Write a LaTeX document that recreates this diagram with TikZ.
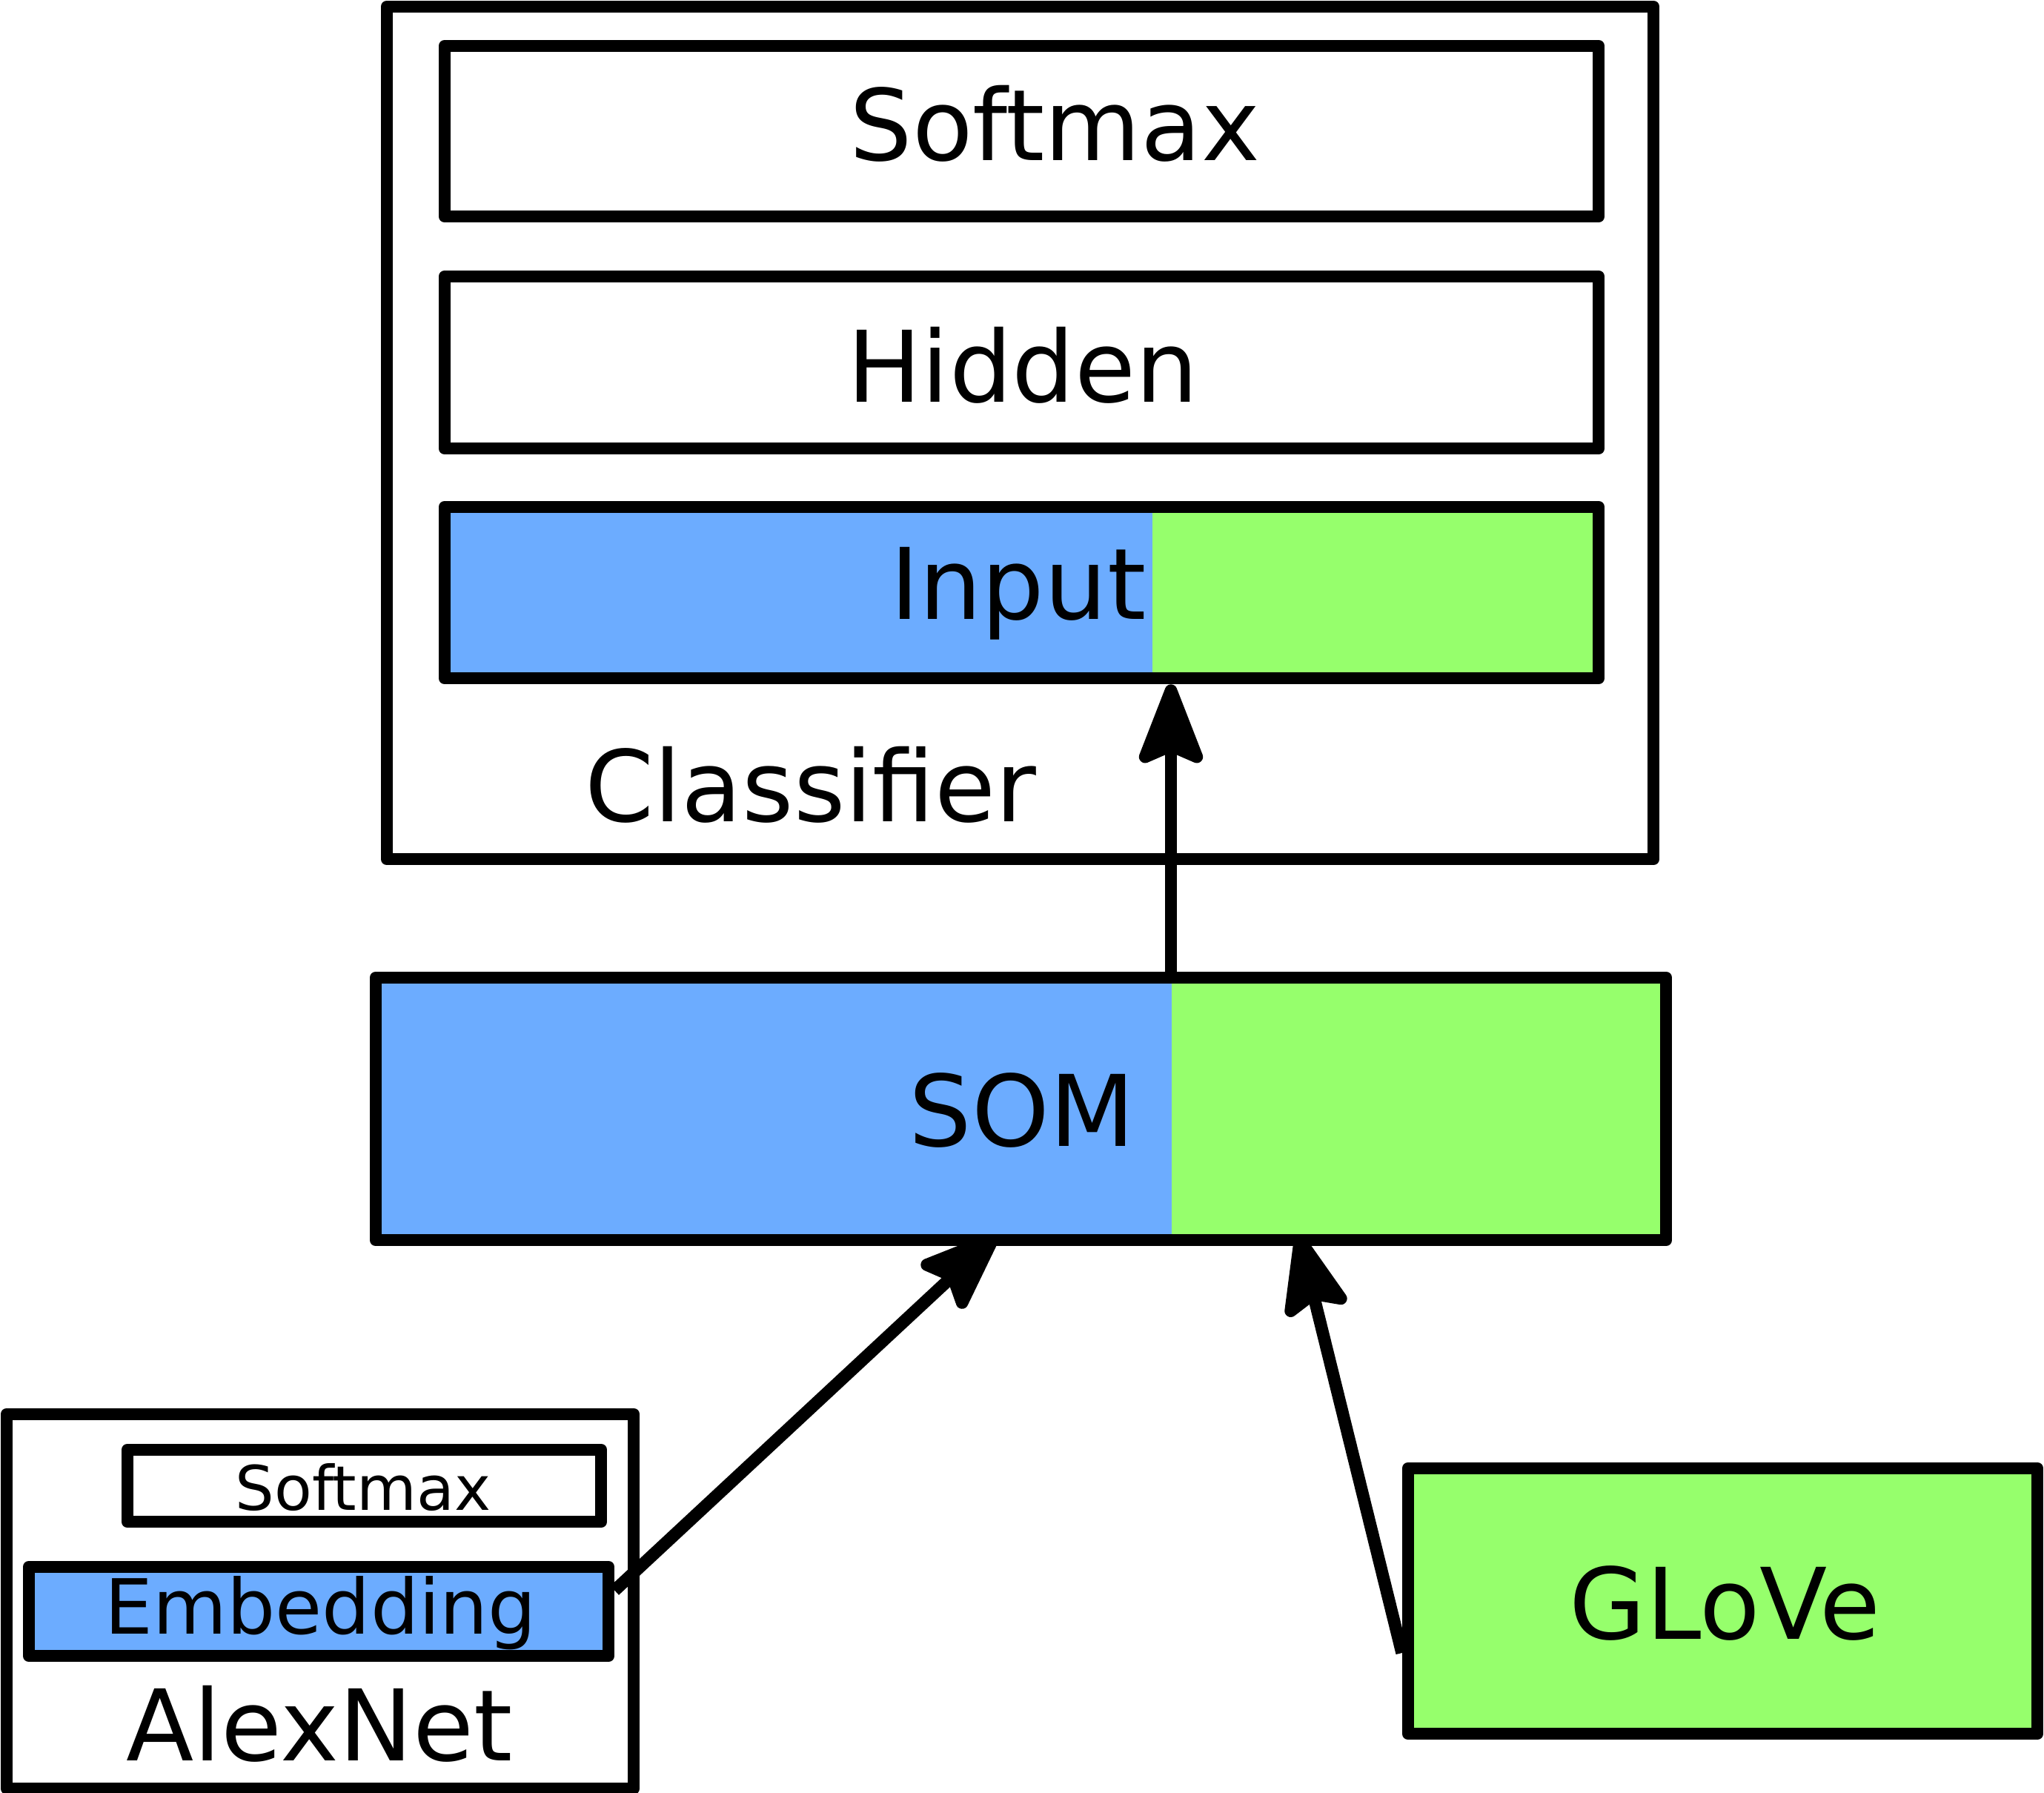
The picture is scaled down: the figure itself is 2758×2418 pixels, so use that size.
\documentclass[tikz,border=0pt]{standalone}
\usepackage{fontspec}
\setmainfont{DejaVu Sans}
\usetikzlibrary{arrows.meta}
\definecolor{somblue}{RGB}{108,172,255}
\definecolor{somgreen}{RGB}{150,255,108}
\pgfdeclarelayer{arrows}
\pgfdeclarelayer{bg}
\pgfsetlayers{arrows,bg,main}
\tikzset{
  box/.style={draw=black, line width=5pt, line join=round, inner sep=0pt, rectangle},
  lbl/.style={inner sep=0pt, font=\fontsize{40}{40}\selectfont},
  arr/.style={line width=5pt, -{Stealth[length=38pt, width=29pt, inset=6pt, round]}},
}
\begin{document}
\begin{tikzpicture}[x=0.3pt, y=-0.3pt]
\useasboundingbox (0,0) rectangle (2758,2418);
% fills
\begin{pgfonlayer}{bg}
\fill[somblue] (600,684) rectangle (1555,915);
\fill[somgreen] (1555,684) rectangle (2157,915);
\fill[somblue] (507,1319) rectangle (1581,1673);
\fill[somgreen] (1581,1319) rectangle (2248,1673);
\fill[somblue] (39,2114) rectangle (821,2234);
\fill[somgreen] (1900,1981) rectangle (2749,2339);
\end{pgfonlayer}
% boxes
\node[box, minimum width=512.7pt, minimum height=345pt] (cls) at (1376.5,584) {};
\node[box, minimum width=467.1pt, minimum height=69pt] (smx) at (1378.5,177) {};
\node[box, minimum width=467.1pt, minimum height=69.6pt] (hid) at (1378.5,489) {};
\node[box, minimum width=467.1pt, minimum height=69.3pt] (inp) at (1378.5,799.5) {};
\node[box, minimum width=522.3pt, minimum height=106.2pt] (som) at (1377.5,1496) {};
\node[box, minimum width=253.8pt, minimum height=151.5pt] (alex) at (432,2160.5) {};
\node[box, minimum width=191.7pt, minimum height=29.1pt] (asm) at (491.5,2004.5) {};
\node[box, minimum width=234.6pt, minimum height=36pt] (emb) at (430,2174) {};
\node[box, minimum width=254.7pt, minimum height=107.4pt] (glv) at (2324.5,2160) {};
% texts
\node[lbl, anchor=base west] (tsmx) at (1146,216) {Softmax};
\node[lbl, anchor=base west] (thid) at (1143,542) {Hidden};
\node[lbl, anchor=base east] (tinp) at (1547,835) {Input};
\node[lbl, anchor=base west] (tcls) at (789,1108) {Classifier};
\node[lbl, anchor=base east] (tsom) at (1532,1546) {SOM};
\node[lbl, anchor=base west, font=\fontsize{24.9}{24.9}\selectfont] (tasm) at (317,2037) {Softmax};
\node[lbl, anchor=base west, font=\fontsize{30.8}{30.8}\selectfont] (temb) at (141,2204) {Embedding};
\node[lbl, anchor=base west] (talex) at (170,2375) {AlexNet};
\node[lbl, anchor=base west] (tglv) at (2117,2211) {GLoVe};
% arrows
\coordinate (ax) at (1580,0);
\begin{pgfonlayer}{arrows}
\draw[arr] (ax |- som.north) -- (ax |- inp.south);
\draw[arr] ([yshift=8.5pt]emb.east) -- ([xshift=-9.45pt, yshift=4.8pt]som.south);
\draw[arr] ([yshift=-21pt]glv.west) -- ([xshift=112.35pt, yshift=4.8pt]som.south);
\end{pgfonlayer}
\end{tikzpicture}
\end{document}
